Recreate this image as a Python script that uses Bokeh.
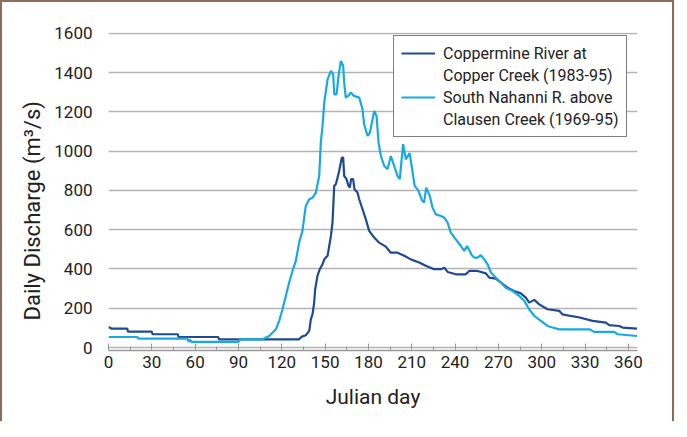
from bokeh.plotting import figure
from bokeh.models import Range1d, FixedTicker, Legend, LegendItem, Title
from bokeh.embed import file_html
from bokeh.resources import INLINE

# ---- data ----
cop_day = [0, 2, 13, 13.5, 30, 30.5, 48, 48.5, 76, 76.5, 132, 133.9, 136.6, 139, 140.1,
           141.3, 142.4, 143.1, 144.7, 146.3, 148.2, 149.4, 151.7, 154, 155.1, 156.3,
           157.4, 158.6, 159.7, 161.6, 162.5, 163.2, 164.8, 166.2, 167.1, 168, 169.4,
           170.3, 172.4, 173.6, 175.9, 178.2, 180.5, 184, 187.4, 192, 195.5, 200.1,
           204.8, 209.3, 215.1, 219.7, 225.5, 230.2, 232.5, 234.8, 240.5, 247.4, 249.8,
           255.5, 261.3, 263.6, 268.2, 271.7, 276.3, 280.9, 285.5, 289, 291.3, 294.8,
           298.3, 304, 312.1, 314.4, 320.1, 326.2, 335.2, 344.4, 346.7, 353.7, 356, 366]
cop_q = [105, 97, 97, 81, 81, 68, 68, 54, 54, 42, 42, 56, 63, 85, 144,
         170, 229, 297, 365, 399, 424, 449, 467, 568, 636, 823,
         831, 865, 899, 967, 967, 874, 857, 823, 814, 857, 857,
         806, 789, 755, 704, 653, 594, 560, 534, 514, 483, 483,
         467, 449, 433, 416, 399, 399, 407, 385, 373, 373, 390,
         390, 378, 356, 351, 331, 305, 288, 276, 254, 229, 243,
         220, 195, 187, 169, 161, 153, 136, 127, 114, 110, 102, 97]

nah_day = [0, 20, 20.5, 54.5, 55.5, 56.5, 57.5, 90, 91, 106.6, 111.3, 115.9, 118.2, 120.5,
           122.8, 125.1, 127.4, 129.7, 132, 134.3, 136.6, 139, 141.3, 143.6, 145.9, 147,
           148.2, 149.4, 151.7, 154, 155.6, 156.3, 157.9, 159.3, 160.9, 162.5, 163.2, 164.3,
           166, 167.8, 170, 173.6, 175.9, 177, 179.4, 181, 184, 185.6, 187, 188.6, 190.9,
           193.2, 195.5, 197.8, 200.1, 201.7, 204, 205.9, 208.5, 210, 212, 214.5, 217,
           218.5, 220, 222.5, 224.4, 226.7, 230.2, 232.5, 234.8, 237, 240.5, 244, 246.3,
           248.3, 251.6, 253.2, 255.5, 257.8, 260.2, 262.5, 264.8, 268.2, 271.7, 275.1,
           279.8, 284.4, 287.9, 291.3, 294.8, 299.4, 304, 307.5, 312.1, 332.9, 336.3,
           350.2, 352.5, 366]
nah_q = [54, 54, 46, 46, 29, 40, 29, 29, 42, 42, 59, 93, 136, 195,
         263, 331, 390, 441, 534, 594, 721, 755, 763, 789, 874, 1043,
         1128, 1247, 1365, 1408, 1391, 1289, 1289, 1383, 1459, 1434, 1349, 1272,
         1281, 1298, 1281, 1272, 1213, 1137, 1077, 1094, 1204, 1179, 1043, 975, 925,
         908, 975, 925, 874, 857, 1035, 958, 990, 920, 823, 800, 750,
         738, 814, 772, 712, 678, 670, 661, 636, 585, 551, 517, 492,
         517, 470, 458, 458, 470, 449, 424, 382, 356, 331, 305,
         288, 263, 238, 195, 161, 136, 110, 102, 93, 93, 80,
         80, 68, 59]

x_ticks = list(range(0, 361, 30))
x_minor = list(range(15, 366, 30))
y_ticks = list(range(0, 1601, 200))
series_lines = [["Coppermine River at", "Copper Creek (1983-95)"],
                ["South Nahanni R. above", "Clausen Creek (1969-95)"]]

FONT = "Roboto"
TXT = "#222222"
DARK = "#1f4a92"
LIGHT = "#19a9e2"
EDGE = "#8e6b5c"

p = figure(width=674, height=421, output_backend="svg", toolbar_location=None,
           x_range=Range1d(0, 366.3), y_range=Range1d(-14.8, 1603.6),
           min_border_left=108, min_border_right=37, min_border_top=32,
           min_border_bottom=71)
p.outline_line_color = None
p.background_fill_color = "white"
p.border_fill_alpha = 0
p.styles = {"box-shadow": f"inset 2px 0 0 {EDGE}, inset -2px 0 0 {EDGE}, inset 0 2px 0 {EDGE}"}

# grid
p.xgrid.grid_line_color = None
p.ygrid.grid_line_color = "#b3b3b3"
p.ygrid.grid_line_width = 1.5

# x axis
p.xaxis.ticker = FixedTicker(ticks=x_ticks, minor_ticks=x_minor)
p.xaxis.axis_line_color = "#9a9a9a"
p.xaxis.axis_line_width = 1.3
p.xaxis.major_tick_line_color = "#9a9a9a"
p.xaxis.minor_tick_line_color = "#9a9a9a"
p.xaxis.major_tick_in = 7
p.xaxis.major_tick_out = 0
p.xaxis.minor_tick_in = 4
p.xaxis.minor_tick_out = 0
p.xaxis.major_label_standoff = 5
p.xaxis.axis_label = "Julian day"
p.xaxis.axis_label_standoff = 14

# y axis
p.yaxis.ticker = FixedTicker(ticks=y_ticks)
p.yaxis.axis_line_color = None
p.yaxis.major_tick_line_color = None
p.yaxis.minor_tick_line_color = None
p.yaxis.major_label_standoff = 10

for ax in (p.xaxis[0], p.yaxis[0]):
    ax.major_label_text_font = FONT
    ax.major_label_text_font_size = "17px"
    ax.major_label_text_color = TXT
    ax.axis_label_text_font = FONT
    ax.axis_label_text_font_size = "21px"
    ax.axis_label_text_font_style = "normal"
    ax.axis_label_text_color = TXT

ytitle = Title(text="Daily Discharge (m³/s)", align="left", offset=30,
               text_font=FONT, text_font_size="22px", text_font_style="normal",
               text_color=TXT, standoff=13)
p.add_layout(ytitle, "left")

r1 = p.line(cop_day, cop_q, line_color=DARK, line_width=2.2)
r2 = p.line(nah_day, nah_q, line_color=LIGHT, line_width=2.2)
# invisible helpers so that each label's second line has no glyph
h1 = p.line([], [], line_alpha=0)
h2 = p.line([], [], line_alpha=0)

legend = Legend(items=[LegendItem(label=series_lines[0][0], renderers=[r1]),
                       LegendItem(label=series_lines[0][1], renderers=[h1]),
                       LegendItem(label=series_lines[1][0], renderers=[r2]),
                       LegendItem(label=series_lines[1][1], renderers=[h2])],
                location=(285, 213), border_line_color="black", border_line_width=1.2,
                label_text_font=FONT, label_text_font_size="16px", label_text_color=TXT,
                label_height=20, glyph_height=20,
                glyph_width=34, label_standoff=8, padding=7, spacing=2,
                margin=0, background_fill_alpha=1)
p.add_layout(legend, "center")

open("out.html", "w").write(file_html(p, INLINE))
